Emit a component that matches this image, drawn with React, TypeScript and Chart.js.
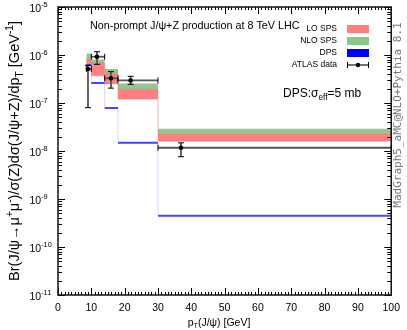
import React, { useEffect, useRef } from 'react';
import { Chart, registerables } from 'chart.js';

Chart.register(...registerables);

const FONT = '"Liberation Sans", Arial, Helvetica, sans-serif';
const MONO = '"DejaVu Sans Mono", "Liberation Mono", monospace';

// Bin edges in pT(J/psi) [GeV]
const binEdges = [8.5, 10, 14, 18, 30, 100];
// LO SPS band (red)
const loSpsLow = [5.9e-7, 3.7e-7, 2.5e-7, 1.2e-7, 1.6e-8];
const loSpsHigh = [8.3e-7, 6.9e-7, 4.1e-7, 1.95e-7, 2.25e-8];
// NLO SPS band (green)
const nloSpsLow = [6.8e-7, 5.0e-7, 3.1e-7, 1.5e-7, 1.9e-8];
const nloSpsHigh = [1.08e-6, 8.1e-7, 5.1e-7, 2.56e-7, 2.9e-8];
// DPS (blue)
const dpsValues = [6.2e-7, 2.6e-7, 7.9e-8, 1.48e-8, 4.5e-10];
// ATLAS data
const atlasX = [9.0, 11.7, 15.9, 21.8, 36.9];
const atlasXLow = [8.5, 10, 14, 18, 30];
const atlasXHigh = [10, 14, 18, 30, 100];
const atlasY = [5.1e-7, 9.2e-7, 3.27e-7, 2.95e-7, 1.17e-8];
const atlasYLow = [8.0e-8, 6.4e-7, 2.04e-7, 2.45e-7, 7.6e-9];
const atlasYHigh = [6.1e-7, 1.17e-6, 4.5e-7, 3.6e-7, 1.48e-8];
// Axes
const xTickValues = [0, 10, 20, 30, 40, 50, 60, 70, 80, 90, 100];
const yDecadeExponents = [-11, -10, -9, -8, -7, -6, -5];

const legendItems = [
  { label: 'LO SPS', kind: 'box', color: 'rgb(255,128,128)' },
  { label: 'NLO SPS', kind: 'box', color: 'rgb(140,200,140)' },
  { label: 'DPS', kind: 'box', color: 'rgb(0,0,255)' },
  { label: 'ATLAS data', kind: 'err', color: '#000' },
];

const RED = 'rgb(255,128,128)';
const GREEN = 'rgb(143,201,143)';

function stepPoints(vals: number[]) {
  return binEdges.map((x, i) => ({ x, y: vals[Math.min(i, vals.length - 1)] }));
}
function segmentPoints(vals: number[]) {
  const pts: any[] = [];
  vals.forEach((v, i) => {
    pts.push({ x: binEdges[i], y: v }, { x: binEdges[i + 1], y: v }, { x: binEdges[i + 1], y: null });
  });
  return pts;
}

type Part = { t: string; s?: 'sup' | 'sub' };

function richWidth(ctx: CanvasRenderingContext2D, parts: Part[], size: number) {
  let w = 0;
  for (const p of parts) {
    ctx.font = `${p.s ? size * 0.7 : size}px ${FONT}`;
    w += ctx.measureText(p.t).width;
  }
  return w;
}
function drawRich(ctx: CanvasRenderingContext2D, parts: Part[], x: number, y: number, size: number, align: 'left' | 'center' | 'right') {
  const w = richWidth(ctx, parts, size);
  let cx = align === 'left' ? x : align === 'center' ? x - w / 2 : x - w;
  ctx.textAlign = 'left';
  ctx.textBaseline = 'alphabetic';
  for (const p of parts) {
    const fs = p.s ? size * 0.7 : size;
    ctx.font = `${fs}px ${FONT}`;
    const dy = p.s === 'sup' ? -size * 0.42 : p.s === 'sub' ? size * 0.25 : 0;
    ctx.fillText(p.t, cx, y + dy);
    cx += ctx.measureText(p.t).width;
  }
}

function line(ctx: CanvasRenderingContext2D, x1: number, y1: number, x2: number, y2: number) {
  ctx.beginPath();
  ctx.moveTo(x1, y1);
  ctx.lineTo(x2, y2);
  ctx.stroke();
}

const ATLAS_INDEX = 6;

const errorBarPlugin = {
  id: 'errorBars',
  beforeDatasetDraw(chart: any, args: any) {
    if (args.index !== ATLAS_INDEX) return;
    const ctx = chart.ctx;
    const xs = chart.scales.x;
    const ys = chart.scales.y;
    ctx.save();
    for (let i = 0; i < atlasX.length; i++) {
      const px = xs.getPixelForValue(atlasX[i]);
      const py = ys.getPixelForValue(atlasY[i]);
      const x1 = xs.getPixelForValue(atlasXLow[i]);
      const x2 = xs.getPixelForValue(atlasXHigh[i]);
      const y1 = ys.getPixelForValue(atlasYLow[i]);
      const y2 = ys.getPixelForValue(atlasYHigh[i]);
      ctx.strokeStyle = '#555';
      ctx.lineWidth = 1.8;
      line(ctx, x1, py, x2, py);
      line(ctx, px, y1, px, y2);
      ctx.strokeStyle = '#000';
      ctx.lineWidth = 1;
      line(ctx, x1, py - 3, x1, py + 3);
      line(ctx, x2, py - 3, x2, py + 3);
      line(ctx, px - 3, y1, px + 3, y1);
      line(ctx, px - 3, y2, px + 3, y2);
    }
    ctx.restore();
  },
};

const decorPlugin = {
  id: 'decor',
  afterDraw(chart: any) {
    const ctx: CanvasRenderingContext2D = chart.ctx;
    const xs = chart.scales.x;
    const ys = chart.scales.y;
    const { left, right, top, bottom } = chart.chartArea;
    ctx.save();
    // ticks
    ctx.strokeStyle = '#000';
    ctx.lineWidth = 1;
    const xMin = xTickValues[0];
    const xMax = xTickValues[xTickValues.length - 1];
    for (let v = xMin; v <= xMax; v++) {
      const px = Math.round(xs.getPixelForValue(v)) + 0.5;
      const len = v % 10 === 0 ? 7 : 3;
      line(ctx, px, bottom, px, bottom - len);
      line(ctx, px, top, px, top + len);
    }
    for (const e of yDecadeExponents) {
      for (let m = 1; m <= 9; m++) {
        if (e === yDecadeExponents[yDecadeExponents.length - 1] && m > 1) break;
        const py = Math.round(ys.getPixelForValue(m * Math.pow(10, e))) + 0.5;
        const len = m === 1 ? 7 : 4;
        line(ctx, left, py, left + len, py);
        line(ctx, right, py, right - len, py);
      }
    }
    // frame
    ctx.lineWidth = 1.5;
    ctx.strokeStyle = '#111';
    ctx.strokeRect(left, top, right - left, bottom - top);

    ctx.fillStyle = '#000';
    // y tick labels
    for (const e of yDecadeExponents) {
      const py = ys.getPixelForValue(Math.pow(10, e));
      drawRich(ctx, [{ t: '10' }, { t: String(e), s: 'sup' }], 29.5, py + 4.5, 10.5, 'left');
    }
    // y-axis title
    ctx.save();
    ctx.translate(19, 151);
    ctx.rotate(-Math.PI / 2);
    drawRich(
      ctx,
      [
        { t: 'Br(J/ψ→μ' },
        { t: '+', s: 'sup' },
        { t: 'μ' },
        { t: '-', s: 'sup' },
        { t: ')/σ(Z)dσ(J/ψ+Z)/dp' },
        { t: 'T', s: 'sub' },
        { t: ' [GeV' },
        { t: '-1', s: 'sup' },
        { t: ']' },
      ],
      0,
      0,
      14.5,
      'center'
    );
    ctx.restore();
    // x-axis title
    drawRich(ctx, [{ t: 'p' }, { t: 'T', s: 'sub' }, { t: '(J/ψ) [GeV]' }], 219, 325.5, 10.5, 'center');
    // title
    drawRich(ctx, [{ t: 'Non-prompt J/ψ+Z production at 8 TeV LHC' }], 90, 28.5, 10.8, 'left');
    // legend
    const rowY = [29, 41, 53, 65];
    legendItems.forEach((it, i) => {
      const y = rowY[i];
      ctx.fillStyle = '#000';
      ctx.font = `8.5px ${FONT}`;
      ctx.textAlign = 'right';
      ctx.textBaseline = 'middle';
      ctx.fillText(it.label, 337, y);
      if (it.kind === 'box') {
        ctx.fillStyle = it.color;
        ctx.fillRect(347, y - 4, 22, 8);
      } else {
        ctx.strokeStyle = '#444';
        ctx.lineWidth = 1.5;
        line(ctx, 347, y, 369, y);
        ctx.strokeStyle = '#000';
        ctx.lineWidth = 1;
        line(ctx, 347.5, y - 3, 347.5, y + 3);
        line(ctx, 368.5, y - 3, 368.5, y + 3);
        ctx.beginPath();
        ctx.arc(358, y, 2.2, 0, Math.PI * 2);
        ctx.fillStyle = '#000';
        ctx.fill();
      }
    });
    // DPS sigma_eff note
    ctx.fillStyle = '#000';
    drawRich(ctx, [{ t: 'DPS:σ' }, { t: 'eff', s: 'sub' }, { t: '=5 mb' }], 283, 97, 12, 'left');
    // generator text on right
    ctx.save();
    ctx.translate(401, 115);
    ctx.rotate(-Math.PI / 2);
    ctx.font = `11px ${MONO}`;
    ctx.fillStyle = '#777';
    ctx.textAlign = 'center';
    ctx.textBaseline = 'alphabetic';
    ctx.fillText('MadGraph5_aMC@NLO+Pythia 8.1', 0, 0);
    ctx.restore();
    ctx.restore();
  },
};

export default function App() {
  const ref = useRef<HTMLCanvasElement | null>(null);
  useEffect(() => {
    if (!ref.current) return;
    const chart = new Chart(ref.current, {
      type: 'scatter',
      data: {
        datasets: [
          {
            data: stepPoints(nloSpsHigh),
            showLine: true,
            stepped: true,
            borderColor: 'rgba(0,0,0,0)',
            borderWidth: 0,
            pointRadius: 0,
            backgroundColor: GREEN,
            fill: '+1',
            order: 4,
          },
          {
            data: stepPoints(nloSpsLow),
            showLine: true,
            stepped: true,
            borderColor: 'rgba(0,0,0,0)',
            borderWidth: 0,
            pointRadius: 0,
            fill: false,
            order: 4,
          },
          {
            data: stepPoints(loSpsHigh),
            showLine: true,
            stepped: true,
            borderColor: 'rgba(255,110,110,0.3)',
            borderWidth: 1,
            pointRadius: 0,
            backgroundColor: RED,
            fill: '+1',
            order: 3,
          },
          {
            data: stepPoints(loSpsLow),
            showLine: true,
            stepped: true,
            borderColor: 'rgba(255,110,110,0.3)',
            borderWidth: 1,
            pointRadius: 0,
            fill: false,
            order: 3,
          },
          {
            data: stepPoints(dpsValues),
            showLine: true,
            stepped: true,
            borderColor: 'rgba(90,90,255,0.25)',
            borderWidth: 1,
            pointRadius: 0,
            fill: false,
            order: 2,
          },
          {
            data: segmentPoints(dpsValues),
            showLine: true,
            spanGaps: false,
            borderColor: 'rgb(70,70,255)',
            borderWidth: 2,
            pointRadius: 0,
            fill: false,
            order: 1,
          },
          {
            data: atlasX.map((x, i) => ({ x, y: atlasY[i] })),
            showLine: false,
            pointRadius: 2.3,
            pointBackgroundColor: '#000',
            pointBorderWidth: 0,
            order: 0,
          },
        ],
      },
      options: {
        responsive: false,
        animation: false,
        events: [],
        layout: { padding: { left: 0, top: 7, right: 14, bottom: 0 } },
        plugins: { legend: { display: false }, tooltip: { enabled: false } },
        scales: {
          x: {
            type: 'linear',
            min: xTickValues[0],
            max: xTickValues[xTickValues.length - 1],
            afterFit: (s: any) => {
              s.height = 35;
            },
            afterBuildTicks: (s: any) => {
              s.ticks = xTickValues.map((v) => ({ value: v }));
            },
            ticks: {
              font: { family: FONT, size: 10.5 },
              color: '#000',
              padding: 7,
              maxRotation: 0,
              autoSkip: false,
            },
            grid: { display: false, drawTicks: false },
            border: { display: false },
          },
          y: {
            type: 'logarithmic',
            min: Math.pow(10, yDecadeExponents[0]),
            max: Math.pow(10, yDecadeExponents[yDecadeExponents.length - 1]),
            afterFit: (s: any) => {
              s.width = 58;
            },
            ticks: { display: false },
            grid: { display: false, drawTicks: false },
            border: { display: false },
          },
        },
      },
      plugins: [errorBarPlugin, decorPlugin],
    } as any);
    return () => chart.destroy();
  }, []);
  return (
    <div style={{ position: 'absolute', left: 0, top: 0, width: 407, height: 330, background: '#fff' }}>
      <canvas ref={ref} width={407} height={330} />
    </div>
  );
}
